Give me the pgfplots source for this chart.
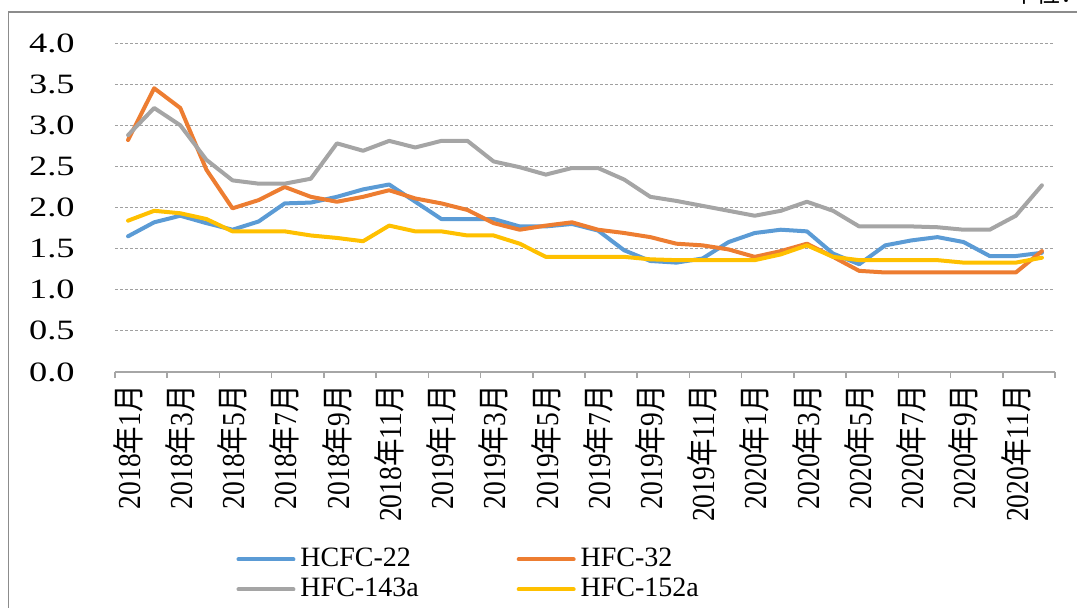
\documentclass[border=0pt]{standalone}
\usepackage{fontspec}
\setmainfont{Liberation Serif}
\newfontfamily\cjk{Noto Sans CJK SC}
\newfontfamily\ytf[FakeStretch=1.3]{Liberation Serif}
\newfontfamily\xtf[FakeStretch=0.86]{Liberation Serif}
\newfontfamily\xcjk[FakeStretch=0.86]{Noto Sans CJK SC}
\usepackage{pgfplots}
\usepackage{pgfplotstable}
\pgfplotsset{compat=1.18}
\definecolor{cBlue}{HTML}{5B9BD5}
\definecolor{cOrange}{HTML}{ED7D31}
\definecolor{cGray}{HTML}{A5A5A5}
\definecolor{cYellow}{HTML}{FFC000}
\definecolor{axisgray}{HTML}{A6A6A6}
\definecolor{gridgray}{HTML}{A0A0A0}
\definecolor{framegray}{HTML}{8C8C8C}
\newcommand\ym[2]{#1{\xcjk 年}#2{\xcjk 月}}

\pgfplotstableread{
i a b c d
0 1.65 2.82 2.88 1.84
1 1.82 3.45 3.21 1.96
2 1.90 3.21 3.00 1.93
3 1.81 2.46 2.58 1.86
4 1.73 1.99 2.33 1.71
5 1.83 2.09 2.29 1.71
6 2.05 2.25 2.29 1.71
7 2.06 2.13 2.35 1.66
8 2.13 2.07 2.78 1.63
9 2.22 2.13 2.69 1.59
10 2.28 2.21 2.81 1.78
11 2.07 2.11 2.73 1.71
12 1.86 2.05 2.81 1.71
13 1.86 1.97 2.81 1.66
14 1.86 1.81 2.56 1.66
15 1.77 1.73 2.49 1.56
16 1.77 1.78 2.40 1.40
17 1.80 1.82 2.48 1.40
18 1.72 1.73 2.48 1.40
19 1.48 1.69 2.34 1.40
20 1.35 1.64 2.13 1.37
21 1.33 1.56 2.08 1.36
22 1.38 1.54 2.02 1.36
23 1.58 1.49 1.96 1.36
24 1.69 1.40 1.90 1.36
25 1.73 1.47 1.96 1.43
26 1.71 1.56 2.07 1.54
27 1.44 1.40 1.96 1.40
28 1.31 1.23 1.77 1.36
29 1.54 1.21 1.77 1.36
30 1.60 1.21 1.77 1.36
31 1.64 1.21 1.76 1.36
32 1.58 1.21 1.73 1.33
33 1.41 1.21 1.73 1.33
34 1.41 1.21 1.90 1.33
35 1.45 1.47 2.27 1.39
}\data

\begin{document}
\begin{tikzpicture}
\useasboundingbox (0pt,0pt) rectangle (538.5pt,303.5pt);
\clip (0pt,0pt) rectangle (538.5pt,303.5pt);
\begin{axis}[
  at={(57.5pt,117.5pt)}, anchor=south west,
  scale only axis, width=470pt, height=164.5pt,
  xmin=-0.5, xmax=35.5, ymin=0, ymax=4,
  axis x line*=bottom, axis y line*=left,
  x axis line style={draw=axisgray, line width=0.75pt},
  y axis line style={draw=none},
  xtick={0,2,...,34},
  xticklabels={\ym{2018}{1},\ym{2018}{3},\ym{2018}{5},\ym{2018}{7},\ym{2018}{9},\ym{2018}{11},
               \ym{2019}{1},\ym{2019}{3},\ym{2019}{5},\ym{2019}{7},\ym{2019}{9},\ym{2019}{11},
               \ym{2020}{1},\ym{2020}{3},\ym{2020}{5},\ym{2020}{7},\ym{2020}{9},\ym{2020}{11}},
  minor xtick={-0.5,1.5,...,35.5},
  major tick length=0pt, minor tick length=3pt, tick align=outside,
  minor x tick style={draw=axisgray, line width=0.75pt},
  xticklabel style={rotate=90, anchor=east, inner sep=0pt, xshift=1pt, font=\xtf\fontsize{16}{16}\selectfont},
  xticklabel shift=7.5pt,
  ytick={0,0.5,...,4},
  yticklabel style={inner sep=0pt, font=\ytf\fontsize{14}{14}\selectfont,
     /pgf/number format/.cd, fixed, fixed zerofill, precision=1, assume math mode=true},
  yticklabel shift=20pt,
  ymajorgrids,
  grid style={dash pattern=on 1.5pt off 1pt, gridgray, line width=0.5pt},
  legend columns=2,
  legend cell align=left,
  legend image code/.code={\draw[#1] (0pt,0pt) -- (27.5pt,0pt);},
  legend style={at={(0.1288,-0.5289)}, anchor=north west, draw=none, fill=none,
     inner sep=0pt, font=\fontsize{14}{14}\selectfont,
     nodes={inner sep=0pt, text height=10pt, text depth=3pt},
     row sep=2pt,
     /tikz/column 1/.style={column sep=2.5pt},
     /tikz/column 2/.style={column sep=49pt},
     /tikz/column 3/.style={column sep=2.5pt}},
  every axis plot/.append style={line width=2pt, line join=round, line cap=round, mark=none},
]
\addplot[cBlue] table[x=i, y=a] {\data};
\addlegendentry{HCFC-22}
\addplot[cOrange] table[x=i, y=b] {\data};
\addlegendentry{HFC-32}
\addplot[cGray] table[x=i, y=c] {\data};
\addlegendentry{HFC-143a}
\addplot[cYellow] table[x=i, y=d] {\data};
\addlegendentry{HFC-152a}
\end{axis}
\draw[framegray, line width=0.75pt] (4.25pt,-1pt) -- (4.25pt,297.5pt) -- (545pt,297.5pt);
\node[anchor=base west, inner sep=0pt, font=\cjk\fontsize{12}{12}\selectfont] at (506pt,302pt) {单位：万元/吨};
\end{tikzpicture}
\end{document}
